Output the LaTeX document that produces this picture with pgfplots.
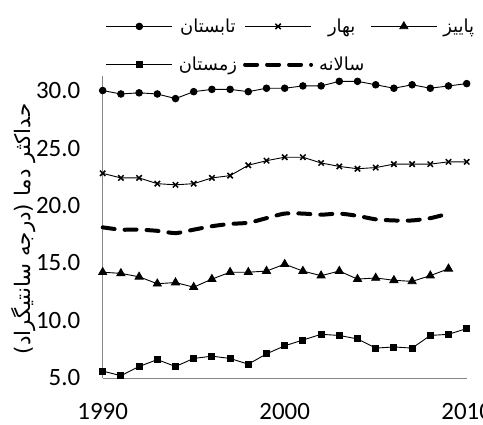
\documentclass[border=0pt]{standalone}
\usepackage{fontspec}
\setmainfont{Carlito}
\newfontfamily\fa[Script=Arabic]{DejaVu Sans}
\TeXXeTstate=1
\usepackage{pgfplots}
\pgfplotsset{compat=1.18}
\definecolor{axgray}{RGB}{134,134,134}
\begin{document}
\begin{tikzpicture}
\begin{axis}[
  scale only axis,
  width=364bp, height=302.3bp,
  xmin=1990, xmax=2010,
  ymin=5, ymax=31.29,
  axis lines*=left,
  axis line style={axgray, line width=1bp, -},
  xtick={1990,2000,2010},
  ytick={5,10,15,20,25,30},
  major tick length=0pt,
  /pgf/number format/assume math mode=true,
  xticklabel style={font=\fontsize{25}{28}\selectfont, /pgf/number format/1000 sep={}, yshift=-22bp},
  yticklabel style={font=\fontsize{25}{28}\selectfont, /pgf/number format/.cd, fixed, fixed zerofill, precision=1, /tikz/.cd, xshift=-19bp},
  ylabel={\fa\beginR حداکثر دما (درجه سانتیگراد)\endR},
  ylabel style={font=\fontsize{21.5}{24}\selectfont, at={(axis description cs:-0.218,0.493)}, anchor=center},
  clip=false,
  every axis plot/.append style={black, line width=0.9bp},
  legend columns=3,
  legend style={draw=none, fill=none, at={(axis description cs:0.0,0.998)}, anchor=south west,
     font=\fontsize{18}{20}\selectfont, column sep=4bp, row sep=19bp,
     nodes={inner sep=2bp}},
  legend image code/.code={\draw[mark repeat=2,mark phase=2] plot coordinates {(0bp,0bp) (33bp,0bp) (66bp,0bp)};},
]
\addplot[mark=*, mark size=3.3bp] coordinates {
(1990,30.0) (1991,29.7) (1992,29.8) (1993,29.7) (1994,29.3) (1995,29.9) (1996,30.1) (1997,30.1) (1998,29.9) (1999,30.2) (2000,30.2)
(2001,30.4) (2002,30.4) (2003,30.8) (2004,30.8) (2005,30.5) (2006,30.2) (2007,30.5) (2008,30.2) (2009,30.4) (2010,30.6)};
\addlegendentry{\fa تابستان}
\addplot[mark=x, mark size=3.8bp, mark options={line width=1.5bp}] coordinates {
(1990,22.8) (1991,22.4) (1992,22.4) (1993,21.9) (1994,21.8) (1995,21.9) (1996,22.4) (1997,22.6) (1998,23.5) (1999,23.9) (2000,24.2)
(2001,24.2) (2002,23.7) (2003,23.4) (2004,23.2) (2005,23.3) (2006,23.6) (2007,23.6) (2008,23.6) (2009,23.8) (2010,23.8)};
\addlegendentry{\fa بهار}
\addplot[mark=triangle*, mark size=4.6bp] coordinates {
(1990,14.2) (1991,14.1) (1992,13.8) (1993,13.2) (1994,13.3) (1995,12.9) (1996,13.6) (1997,14.2) (1998,14.2) (1999,14.3) (2000,14.9)
(2001,14.3) (2002,13.9) (2003,14.3) (2004,13.6) (2005,13.7) (2006,13.5) (2007,13.4) (2008,13.9) (2009,14.5)};
\addlegendentry{\fa پاییز}
\addplot[mark=square*, mark size=3bp] coordinates {
(1990,5.6) (1991,5.2) (1992,6.0) (1993,6.6) (1994,6.0) (1995,6.7) (1996,6.9) (1997,6.7) (1998,6.2) (1999,7.1) (2000,7.8)
(2001,8.3) (2002,8.8) (2003,8.7) (2004,8.4) (2005,7.6) (2006,7.7) (2007,7.6) (2008,8.7) (2009,8.8) (2010,9.3)};
\addlegendentry{\fa زمستان}
\addplot[no marks, smooth, tension=0.4, line width=4bp, line cap=round, dash pattern=on 12bp off 10bp] coordinates {
(1990,18.1) (1991,17.9) (1992,17.9) (1993,17.8) (1994,17.6) (1995,17.9) (1996,18.2) (1997,18.4) (1998,18.5) (1999,18.9) (2000,19.3)
(2001,19.3) (2002,19.2) (2003,19.3) (2004,19.1) (2005,18.8) (2006,18.7) (2007,18.7) (2008,18.9) (2009,19.3)};
\addlegendentry{\fa سالانه}
\end{axis}
\pgfresetboundingbox
\path[use as bounding box] (-102.7bp,-47bp) rectangle (380.3bp,378bp);
\end{tikzpicture}
\end{document}
